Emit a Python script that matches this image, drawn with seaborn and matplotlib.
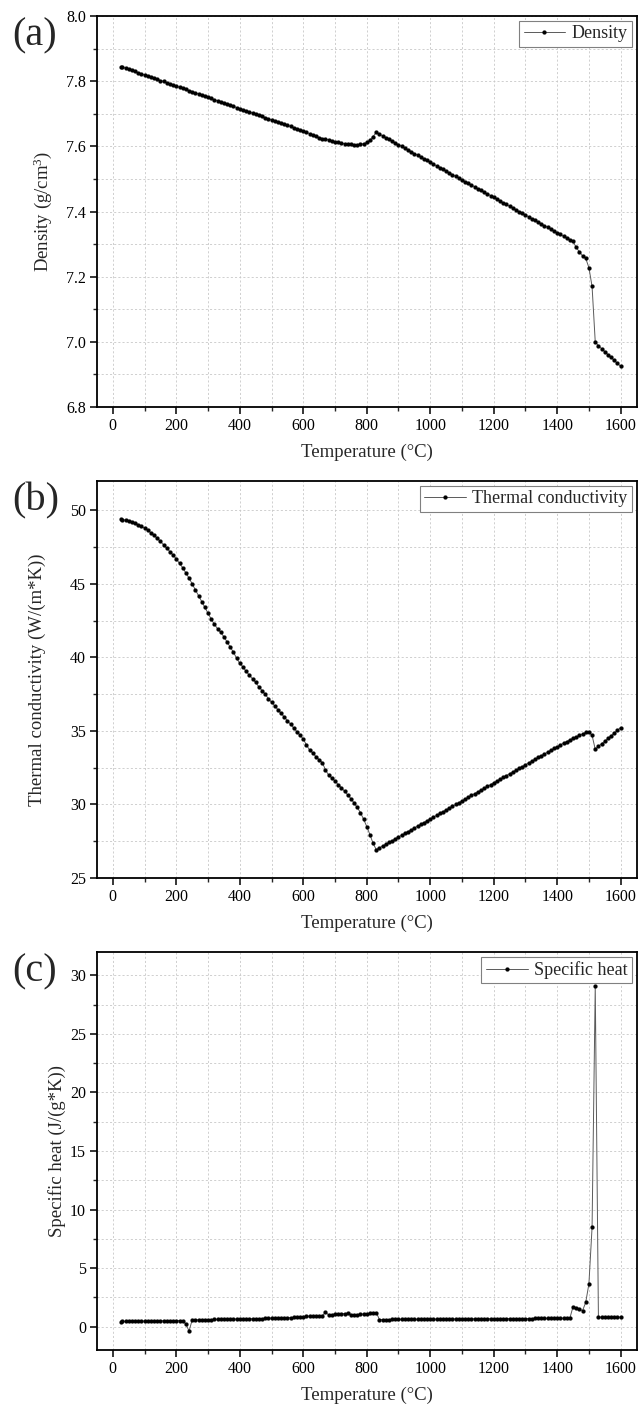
import matplotlib
matplotlib.use("Agg")
import matplotlib.pyplot as plt
from matplotlib.ticker import MultipleLocator
import pandas as pd
import seaborn as sns

# ---------------- data ----------------
temperature = [25] + list(range(30, 1601, 10))

density = [
    7.845, 7.843, 7.840, 7.836, 7.833, 7.830, 7.826, 7.823,
    7.819, 7.816, 7.812, 7.809, 7.806, 7.802, 7.799, 7.795, 7.792, 7.788,
    7.785, 7.781, 7.778, 7.775, 7.771, 7.768, 7.764, 7.761, 7.757, 7.754,
    7.750, 7.747, 7.743, 7.740, 7.737, 7.733, 7.730, 7.726, 7.723, 7.719,
    7.716, 7.712, 7.709, 7.706, 7.702, 7.699, 7.695, 7.692, 7.688, 7.685,
    7.681, 7.678, 7.675, 7.671, 7.668, 7.664, 7.661, 7.657, 7.654, 7.650,
    7.647, 7.643, 7.639, 7.635, 7.631, 7.627, 7.624, 7.622, 7.620, 7.617,
    7.614, 7.612, 7.610, 7.608, 7.607, 7.606, 7.605, 7.605, 7.606, 7.608,
    7.612, 7.619, 7.630, 7.643, 7.638, 7.632, 7.627, 7.621, 7.616, 7.611,
    7.605, 7.600, 7.594, 7.589, 7.584, 7.578, 7.573, 7.567, 7.562, 7.557,
    7.551, 7.546, 7.540, 7.535, 7.530, 7.524, 7.519, 7.513, 7.508, 7.503,
    7.497, 7.492, 7.486, 7.481, 7.476, 7.470, 7.465, 7.459, 7.454, 7.449,
    7.443, 7.438, 7.432, 7.427, 7.422, 7.416, 7.411, 7.405, 7.400, 7.395,
    7.389, 7.384, 7.378, 7.373, 7.368, 7.362, 7.357, 7.351, 7.346, 7.341,
    7.335, 7.330, 7.324, 7.319, 7.314, 7.308, 7.290, 7.276, 7.264, 7.256,
    7.228, 7.170, 7.000, 6.988, 6.979, 6.970, 6.961, 6.952, 6.943, 6.934,
    6.925,
]

thermal_conductivity = [
    49.39, 49.38, 49.33, 49.28, 49.21, 49.13, 49.03, 48.92,
    48.79, 48.64, 48.48, 48.30, 48.10, 47.89, 47.66, 47.42, 47.20, 46.96,
    46.70, 46.40, 46.10, 45.75, 45.40, 45.00, 44.60, 44.20, 43.80, 43.40,
    43.00, 42.60, 42.25, 41.95, 41.70, 41.40, 41.05, 40.70, 40.35, 39.95,
    39.60, 39.35, 39.05, 38.80, 38.55, 38.30, 38.00, 37.75, 37.50, 37.20,
    36.95, 36.70, 36.45, 36.20, 35.95, 35.70, 35.45, 35.20, 34.95, 34.70,
    34.45, 34.05, 33.70, 33.50, 33.25, 33.05, 32.85, 32.35, 32.00, 31.80,
    31.60, 31.35, 31.15, 30.90, 30.65, 30.40, 30.10, 29.80, 29.45, 29.00,
    28.50, 27.95, 27.35, 26.93, 27.05, 27.18, 27.30, 27.42, 27.54, 27.67,
    27.79, 27.91, 28.04, 28.16, 28.28, 28.40, 28.53, 28.65, 28.77, 28.90,
    29.02, 29.14, 29.26, 29.39, 29.51, 29.63, 29.76, 29.88, 30.00, 30.12,
    30.25, 30.37, 30.49, 30.62, 30.74, 30.86, 30.98, 31.11, 31.23, 31.35,
    31.48, 31.60, 31.72, 31.84, 31.97, 32.09, 32.21, 32.34, 32.46, 32.58,
    32.70, 32.83, 32.95, 33.07, 33.20, 33.32, 33.44, 33.56, 33.69, 33.81,
    33.93, 34.05, 34.17, 34.28, 34.40, 34.50, 34.60, 34.70, 34.80, 34.90,
    34.93, 34.70, 33.75, 33.95, 34.13, 34.30, 34.50, 34.68, 34.86, 35.04,
    35.23,
]

specific_heat = [
    0.43, 0.44, 0.44, 0.45, 0.45, 0.46, 0.46, 0.47,
    0.47, 0.48, 0.48, 0.48, 0.49, 0.49, 0.50, 0.50, 0.50, 0.51,
    0.51, 0.52, 0.52, 0.22, -0.38, 0.57, 0.58, 0.58, 0.59, 0.59,
    0.60, 0.60, 0.61, 0.61, 0.62, 0.62, 0.63, 0.63, 0.64, 0.64,
    0.65, 0.66, 0.66, 0.67, 0.67, 0.68, 0.69, 0.69, 0.70, 0.71,
    0.72, 0.72, 0.73, 0.74, 0.75, 0.76, 0.77, 0.78, 0.80, 0.81,
    0.83, 0.88, 0.89, 0.90, 0.91, 0.92, 0.93, 1.22, 1.00, 1.03,
    1.05, 1.07, 1.09, 1.11, 1.13, 1.02, 1.02, 1.03, 1.05, 1.07,
    1.10, 1.13, 1.16, 1.20, 0.60, 0.60, 0.60, 0.60, 0.61, 0.61,
    0.61, 0.61, 0.61, 0.62, 0.62, 0.62, 0.62, 0.62, 0.63, 0.63,
    0.63, 0.63, 0.63, 0.64, 0.64, 0.64, 0.64, 0.64, 0.65, 0.65,
    0.65, 0.65, 0.65, 0.66, 0.66, 0.66, 0.66, 0.66, 0.67, 0.67,
    0.67, 0.67, 0.67, 0.68, 0.68, 0.68, 0.68, 0.68, 0.69, 0.69,
    0.69, 0.69, 0.69, 0.70, 0.70, 0.70, 0.70, 0.70, 0.71, 0.71,
    0.71, 0.71, 0.71, 0.72, 0.72, 1.70, 1.56, 1.48, 1.36, 2.07,
    3.64, 8.47, 29.10, 0.80, 0.80, 0.80, 0.80, 0.80, 0.80, 0.80,
    0.80,
]

panel_tags = ["(a)", "(b)", "(c)"]
series_names = ["Density", "Thermal conductivity", "Specific heat"]
y_titles = [r"Density (g/cm$^3$)", "Thermal conductivity (W/(m*K))",
            "Specific heat (J/(g*K))"]
x_title = "Temperature (\u00b0C)"

# ---------------- style ----------------
sns.set_style("ticks")
plt.rcParams["font.family"] = ["Liberation Serif", "DejaVu Serif"]
plt.rcParams["mathtext.fontset"] = "custom"
plt.rcParams["mathtext.rm"] = "Liberation Serif"
plt.rcParams["mathtext.default"] = "regular"
plt.rcParams["legend.numpoints"] = 1

W, H = 638, 1409
fig = plt.figure(figsize=(W / 100, H / 100), dpi=100)

LEFT, RIGHT = 97, 636.5
boxes = [(16, 407), (481, 878), (952, 1350)]          # (top, bottom) px
ylims = [(6.8, 8.0), (25, 52), (-2, 32)]
ymaj = [0.2, 5, 5]
ymin = [0.1, 2.5, 2.5]
ylabel_x = [43, 37, 57]                                # px centre of y title
series = [density, thermal_conductivity, specific_heat]

for i in range(3):
    top, bot = boxes[i]
    ax = fig.add_axes([LEFT / W, 1 - bot / H, (RIGHT - LEFT) / W, (bot - top) / H])
    df = pd.DataFrame({"Temperature": temperature, "value": series[i]})
    sns.lineplot(data=df, x="Temperature", y="value", ax=ax, errorbar=None,
                 color="#5a5a5a", linewidth=0.7, marker="o", markersize=2.8,
                 markerfacecolor="black", markeredgecolor="black",
                 markeredgewidth=0.2, label=series_names[i])

    ax.set_xlim(-50, 1650)
    ax.set_ylim(*ylims[i])
    ax.xaxis.set_major_locator(MultipleLocator(200))
    ax.xaxis.set_minor_locator(MultipleLocator(100))
    ax.yaxis.set_major_locator(MultipleLocator(ymaj[i]))
    ax.yaxis.set_minor_locator(MultipleLocator(ymin[i]))
    if i == 0:
        ax.yaxis.set_major_formatter(matplotlib.ticker.FormatStrFormatter("%.1f"))

    ax.grid(which="both", linestyle=(0, (2.5, 2.5)), color="#c8c8c8", linewidth=0.6)
    ax.set_axisbelow(True)
    for sp in ax.spines.values():
        sp.set_visible(True)
        sp.set_linewidth(1.3)
        sp.set_color("black")
    ax.tick_params(which="major", direction="out", length=5, width=1.1,
                   labelsize=11.5, pad=3, colors="black")
    ax.tick_params(which="minor", direction="out", length=3, width=1.0)

    ax.set_xlabel(x_title, fontsize=13.5, labelpad=7)
    ax.set_ylabel(y_titles[i], fontsize=13.5)
    ax.yaxis.set_label_coords((ylabel_x[i] - LEFT) / (RIGHT - LEFT), 0.5)
    ax.yaxis.label.set_verticalalignment("center")

    leg = ax.legend(loc="upper right", fontsize=13, frameon=True, fancybox=False,
                    edgecolor="#808080", framealpha=1, borderpad=0.25,
                    handlelength=2.3, handletextpad=0.35, borderaxespad=0.25)
    leg.get_frame().set_linewidth(0.8)

    fig.text(12 / W, 1 - (top + 20) / H, panel_tags[i], fontsize=29,
             ha="left", va="center")

fig.savefig("out.png", dpi=100)
